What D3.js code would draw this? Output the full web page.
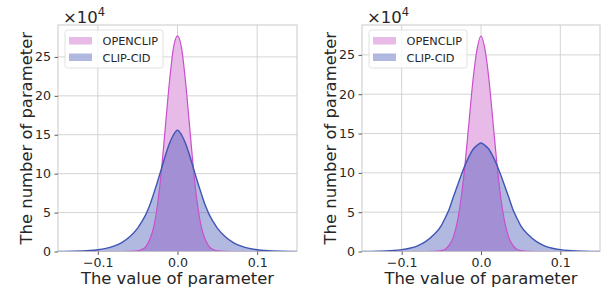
<!DOCTYPE html>
<html>
<head>
<meta charset="utf-8">
<script src="https://cdn.jsdelivr.net/npm/d3@7"></script>
<style>
  body { margin: 0; background: #fff; }
  text { font-family: "DejaVu Sans", sans-serif; fill: #262626; }
</style>
</head>
<body>
<script>
// parameter values (x) and densities in units of 1e4
const xs = [-0.15, -0.13, -0.12, -0.11, -0.10, -0.09, -0.08, -0.07, -0.06, -0.05, -0.045, -0.04, -0.035, -0.03, -0.025, -0.02, -0.015, -0.01, -0.005,
  0,
  0.005, 0.01, 0.015, 0.02, 0.025, 0.03, 0.035, 0.04, 0.045, 0.05, 0.06, 0.07, 0.08, 0.09, 0.10, 0.11, 0.12, 0.13, 0.15];

const openclipLeft = [0, 0, 0, 0, 0, 0, 0, 0, 0.02, 0.1, 0.25, 0.6, 1.5, 3.1, 6.1, 10.6, 16.3, 21.9, 26.2,
  27.7,
  26.2, 21.9, 16.3, 10.6, 6.1, 3.1, 1.5, 0.6, 0.25, 0.1, 0.02, 0, 0, 0, 0, 0, 0, 0, 0];
const clipcidLeft = [0.01, 0.04, 0.07, 0.12, 0.22, 0.4, 0.7, 1.15, 1.9, 3.0, 3.8, 4.7, 5.9, 7.4, 9.0, 10.7, 12.4, 13.9, 15.0,
  15.6,
  15.0, 13.9, 12.4, 10.7, 9.0, 7.4, 5.9, 4.7, 3.8, 3.0, 1.9, 1.15, 0.7, 0.4, 0.22, 0.12, 0.07, 0.04, 0.01];

const openclipRight = [0, 0, 0, 0, 0, 0, 0, 0, 0.02, 0.12, 0.3, 0.8, 1.8, 3.7, 6.8, 11.2, 16.6, 21.9, 25.7,
  27.4,
  25.7, 21.9, 16.6, 11.2, 6.8, 3.7, 1.8, 0.8, 0.3, 0.12, 0.02, 0, 0, 0, 0, 0, 0, 0, 0];
const clipcidRight = [0.01, 0.04, 0.07, 0.13, 0.24, 0.42, 0.72, 1.25, 2.1, 3.3, 4.3, 5.4, 6.9, 8.3, 9.7, 11.0, 12.1, 13.0, 13.5,
  13.8,
  13.5, 13.0, 12.1, 11.0, 9.7, 8.3, 6.9, 5.4, 4.3, 3.3, 2.1, 1.25, 0.72, 0.42, 0.24, 0.13, 0.07, 0.04, 0.01];

const seriesNames = ['OPENCLIP', 'CLIP-CID'];
const xTicks = [-0.1, 0.0, 0.1];
const yTicks = [0, 5, 10, 15, 20, 25];

const W = 608, H = 290;
const svg = d3.select('body').append('svg')
  .attr('width', W).attr('height', H)
  .style('background', '#fff');

const colors = {
  pinkFill: '#e7bae8', pinkLine: '#c94fcc',
  blueFill: '#3f51b5', blueLine: '#3f55b5'
};

function drawPanel(left, right, yMax, openclip, clipcid) {
  const top = 25, bottom = 251.5;
  const x = d3.scaleLinear().domain([-0.15, 0.15]).range([left, right]);
  const y = d3.scaleLinear().domain([0, yMax]).range([bottom, top]);
  const g = svg.append('g');

  // grid
  g.selectAll('.gx').data(xTicks).enter().append('line')
    .attr('x1', d => x(d)).attr('x2', d => x(d))
    .attr('y1', top).attr('y2', bottom)
    .attr('stroke', '#cfcfcf').attr('stroke-width', 0.9);
  g.selectAll('.gy').data(yTicks).enter().append('line')
    .attr('x1', left).attr('x2', right)
    .attr('y1', d => y(d)).attr('y2', d => y(d))
    .attr('stroke', '#cfcfcf').attr('stroke-width', 0.9);

  const pts = a => xs.map((v, i) => [v, a[i]]);
  const area = d3.area().x(d => x(d[0])).y0(y(0)).y1(d => y(d[1])).curve(d3.curveMonotoneX);
  const line = d3.line().x(d => x(d[0])).y(d => y(d[1])).curve(d3.curveMonotoneX);

  g.append('path').attr('d', area(pts(openclip))).attr('fill', colors.pinkFill);
  g.append('path').attr('d', area(pts(clipcid))).attr('fill', colors.blueFill).attr('fill-opacity', 0.4);
  g.append('path').attr('d', line(pts(openclip))).attr('fill', 'none')
    .attr('stroke', colors.pinkLine).attr('stroke-width', 1.2);
  g.append('path').attr('d', line(pts(clipcid))).attr('fill', 'none')
    .attr('stroke', colors.blueLine).attr('stroke-width', 1.4);

  // frame
  g.append('rect').attr('x', left).attr('y', top)
    .attr('width', right - left).attr('height', bottom - top)
    .attr('fill', 'none').attr('stroke', '#c4c4c4').attr('stroke-width', 0.9);

  // axes
  const xAxis = g.append('g').attr('transform', `translate(0,${bottom})`)
    .call(d3.axisBottom(x).tickValues(xTicks).tickSize(3.5).tickPadding(3)
      .tickFormat(d => d3.format('.1f')(d).replace('-', '\u2212')));
  const yAxis = g.append('g').attr('transform', `translate(${left},0)`)
    .call(d3.axisLeft(y).tickValues(yTicks).tickSize(3.5).tickPadding(3.5));
  [xAxis, yAxis].forEach(a => {
    a.select('.domain').remove();
    a.selectAll('.tick line').attr('stroke', '#333').attr('stroke-width', 0.8);
    a.selectAll('.tick text').style('font-size', '12.6px').style('font-family', '"DejaVu Sans", sans-serif').attr('fill', '#262626');
  });

  // offset text ×10^4
  const off = g.append('text').attr('x', left + 5).attr('y', 23).style('font-size', '16.5px');
  off.append('tspan').text('\u00d710');
  off.append('tspan').text('4').attr('dy', -7).style('font-size', '11.5px');

  // labels
  g.append('text').text('The value of parameter')
    .attr('x', (left + right) / 2).attr('y', 284)
    .attr('text-anchor', 'middle').style('font-size', '16.4px');
  g.append('text').text('The number of parameter')
    .attr('transform', `translate(${left - 26.5},${(top + bottom) / 2}) rotate(-90)`)
    .attr('text-anchor', 'middle').style('font-size', '16.4px');

  // legend
  const lg = g.append('g').attr('transform', `translate(${left + 7},30)`);
  lg.append('rect').attr('width', 98).attr('height', 38).attr('rx', 2.5)
    .attr('fill', '#fff').attr('fill-opacity', 0.8).attr('stroke', '#d9d9d9').attr('stroke-width', 0.8);
  const items = lg.selectAll('.li').data(seriesNames).enter().append('g')
    .attr('transform', (d, i) => `translate(4,${7 + i * 16.5})`);
  items.append('rect').attr('width', 23).attr('height', 7.5)
    .attr('fill', (d, i) => i === 0 ? colors.pinkFill : colors.blueFill)
    .attr('fill-opacity', (d, i) => i === 0 ? 1 : 0.4);
  items.append('text').text(d => d).attr('x', 33.5).attr('y', 8)
    .style('font-size', '11.3px');
}

drawPanel(58, 297, 29.1, openclipLeft, clipcidLeft);
drawPanel(362, 600, 28.8, openclipRight, clipcidRight);
</script>
</body>
</html>
